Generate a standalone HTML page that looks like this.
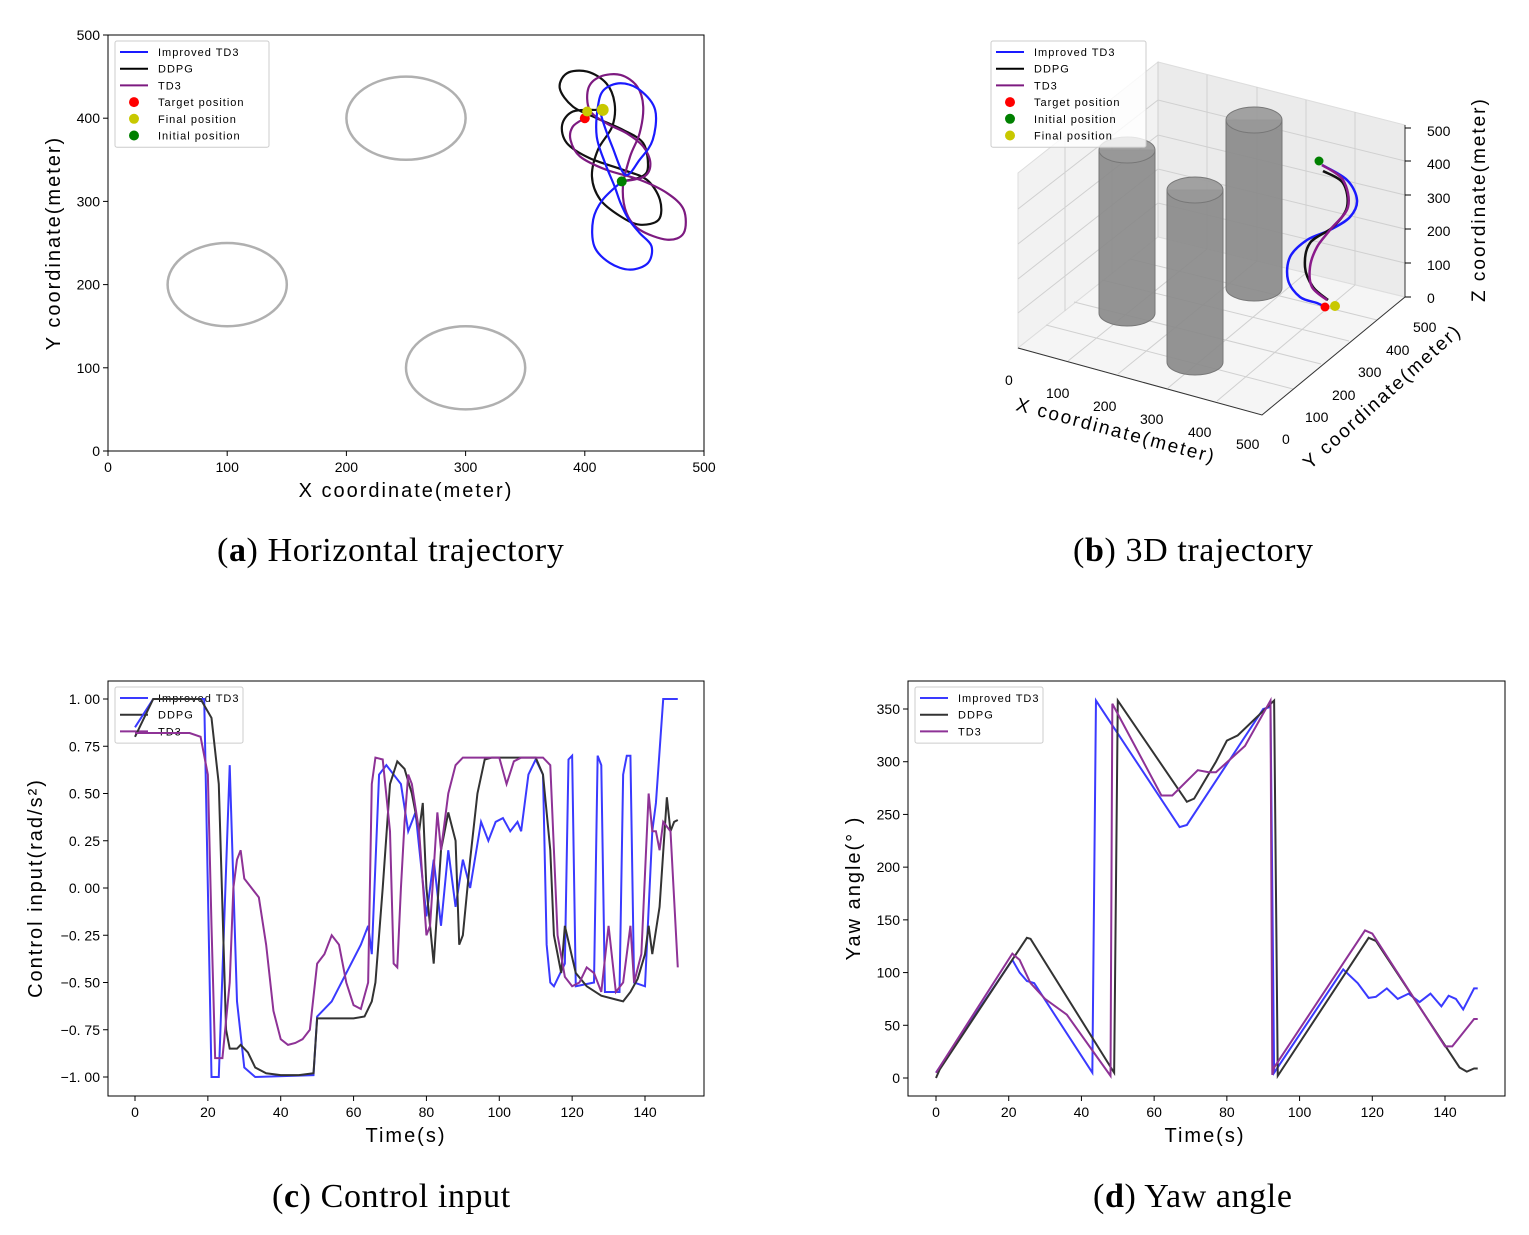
<!DOCTYPE html>
<html><head><meta charset="utf-8"><style>
body{margin:0;background:#fff;width:1529px;height:1230px;overflow:hidden}
svg text{font-family:"Liberation Sans","Noto Sans CJK SC",sans-serif}
.cap{font-family:"Liberation Serif",serif;font-size:34px;letter-spacing:0.6px}
</style></head><body>
<svg id="s" width="1529" height="1230" xmlns="http://www.w3.org/2000/svg">
<g id="g3d">
 <polygon points="1018,173 1158,62 1158,237 1018,348" fill="#f2f2f2" stroke="#ddd"/>
 <polygon points="1158,62 1405,125 1405,297 1158,237" fill="#ebebeb" stroke="#ddd"/>
 <polygon points="1018,348 1158,237 1405,297 1262,415" fill="#f5f5f5" stroke="#ddd"/>
 <g stroke="#d0d0d0" stroke-width="1" fill="none">
  <path d="M1065,136 V311 M1112,99 V274 M1158,62 V237 M1207,75 V249 M1257,87 V261 M1306,100 V273 M1355,112 V285"/>
  <path d="M1018,313 L1158,203 L1405,263 M1018,279 L1158,169 L1405,229 M1018,244 L1158,135 L1405,195 M1018,209 L1158,100 L1405,161"/>
  <path d="M1068,361 L1207,249 M1118,374 L1257,261 M1168,388 L1306,273 M1217,401 L1355,285 M1046,325 L1293,389 M1074,302 L1321,364 M1102,280 L1349,341 M1130,259 L1377,320"/>
 </g>
 <path d="M1018,348 L1262,415 L1405,297 V125" stroke="#333" fill="none"/>
 <g fill="#888" fill-opacity="0.9" stroke="#777">
  <path d="M1099,150 V313 A28,13 0 0 0 1155,313 V150 Z"/><ellipse cx="1127" cy="150" rx="28" ry="13" fill="#999"/>
  <path d="M1226,120 V288 A28,13 0 0 0 1282,288 V120 Z"/><ellipse cx="1254" cy="120" rx="28" ry="13" fill="#999"/>
  <path d="M1167,190 V362 A28,13 0 0 0 1223,362 V190 Z"/><ellipse cx="1195" cy="190" rx="28" ry="13" fill="#999"/>
 </g>
 <g font-size="14" fill="#000">
  <text x="1005" y="385">0</text><text x="1046" y="398">100</text><text x="1093" y="411">200</text><text x="1140" y="424">300</text><text x="1188" y="437">400</text><text x="1236" y="449">500</text>
  <text x="1282" y="444">0</text><text x="1305" y="422">100</text><text x="1332" y="400">200</text><text x="1358" y="377">300</text><text x="1386" y="355">400</text><text x="1413" y="332">500</text>
  <text x="1427" y="303">0</text><text x="1427" y="270">100</text><text x="1427" y="236">200</text><text x="1427" y="203">300</text><text x="1427" y="169">400</text><text x="1427" y="136">500</text>
 </g>
 <path d="M1405,297 h6 M1405,263 h6 M1405,229 h6 M1405,195 h6 M1405,161 h6 M1405,128 h6" stroke="#000"/>
 <text font-size="19" transform="translate(1015,410) rotate(15)" letter-spacing="2">X coordinate(meter)</text>
 <text font-size="19" transform="translate(1310,470) rotate(-42)" letter-spacing="2">Y coordinate(meter)</text>
 <text font-size="19" transform="translate(1485,302) rotate(-90)" letter-spacing="2">Z coordinate(meter)</text>
 <path id="b3" fill="none" stroke="#1a1aff" stroke-width="2.5"/>
 <path id="k3" fill="none" stroke="#111" stroke-width="2.5"/>
 <path id="p3" fill="none" stroke="#8a1a8a" stroke-width="2.5"/>
 <circle cx="1319" cy="161" r="4.5" fill="green"/><circle cx="1325" cy="307" r="4.5" fill="red"/><circle cx="1335" cy="306" r="5" fill="#c8c800"/>
</g>
<g id="root"></g>
<text class="cap" x="217" y="561">(<tspan font-weight="bold">a</tspan>)  Horizontal trajectory</text>
<text class="cap" x="1073" y="561">(<tspan font-weight="bold">b</tspan>)  3D trajectory</text>
<text class="cap" x="272" y="1207">(<tspan font-weight="bold">c</tspan>)  Control input</text>
<text class="cap" x="1093" y="1207">(<tspan font-weight="bold">d</tspan>)  Yaw angle</text>
</svg>
<script>
// Panel (a) data (meters)
const obstacleX=[250,100,300], obstacleY=[400,200,100], obstacleR=[50,50,50];
const blueTrajX=[431,415,407,408,421,438,453,456,446,437,430,425,417,410,411,416,430,446,459,457,446,434,423,414,414];
const blueTrajY=[324,302,278,246,226,218,226,246,262,278,298,318,346,378,414,434,442,434,410,374,350,332,366,402,412];
const ddpgTrajX=[410,390,381,385,404,432,452,463,462,446,430,413,406,411,423,425,418,402,385,379,390,410,432,449,453,448,431];
const ddpgTrajY=[410,408,392,370,352,338,326,302,278,272,282,302,330,362,390,418,442,456,454,436,414,400,386,370,342,330,324];
const td3TrajX=[400,390,388,396,418,446,469,483,483,469,446,435,432,438,446,449,444,430,413,403,404,418,435,449,455,450,432];
const td3TrajY=[400,390,374,354,338,326,310,290,262,254,266,286,318,354,382,414,438,452,450,436,410,394,382,366,346,330,324];
// Panel (c) data
const tBlue=[0,5,19,21,23,26,28,30,33,49,50,54,58,62,64,65,67,69,73,75,77,80,82,84,86,88,90,92,95,97,99,101,103,105,106,108,110,112,113,114,115,118,119,120,121,126,127,128,129,133,134,135,136,137,140,142,143,145,149];
const uBlue=[0.85,1.0,1.0,-1.0,-1.0,0.65,-0.6,-0.95,-1.0,-0.99,-0.68,-0.6,-0.45,-0.3,-0.2,-0.35,0.6,0.65,0.55,0.3,0.4,-0.15,0.15,-0.2,0.2,-0.1,0.15,0.0,0.35,0.25,0.35,0.37,0.3,0.35,0.3,0.6,0.68,0.6,-0.3,-0.5,-0.52,-0.4,0.68,0.7,-0.52,-0.5,0.7,0.65,-0.55,-0.55,0.6,0.7,0.7,-0.5,-0.52,0.3,0.45,1.0,1.0];
const tDdpg=[0,5,18,21,23,25,26,28,29,31,33,36,40,45,49,50,60,63,65,66,68,70,72,74,76,78,79,80,82,84,86,88,89,90,92,94,96,98,110,112,114,115,117,118,121,124,128,132,134,136,138,140,141,142,144,146,147,148,149];
const uDdpg=[0.8,1.0,1.0,0.9,0.55,-0.75,-0.85,-0.85,-0.83,-0.87,-0.95,-0.98,-0.99,-0.99,-0.98,-0.69,-0.69,-0.68,-0.6,-0.5,0,0.55,0.67,0.63,0.5,0.3,0.45,0,-0.4,0.2,0.4,0.25,-0.3,-0.25,0.15,0.5,0.68,0.69,0.69,0.6,0.2,-0.25,-0.45,-0.2,-0.45,-0.52,-0.57,-0.59,-0.6,-0.55,-0.48,-0.35,-0.2,-0.35,-0.1,0.48,0.3,0.35,0.36];
const tTd3=[0,5,10,15,18,20,21,22,24,26,27,28,29,30,32,34,36,38,40,42,44,46,48,50,52,54,56,58,60,62,64,65,66,68,70,71,72,73,74,75,76,78,80,81,83,84,86,88,90,100,102,104,106,112,114,116,118,120,122,124,126,128,130,132,134,136,137,139,141,142,143,144,145,147,149];
const uTd3=[0.82,0.82,0.82,0.82,0.8,0.6,-0.2,-0.9,-0.9,-0.5,0.0,0.15,0.2,0.05,0.0,-0.05,-0.3,-0.65,-0.8,-0.83,-0.82,-0.8,-0.75,-0.4,-0.35,-0.25,-0.3,-0.5,-0.62,-0.64,-0.5,0.55,0.69,0.68,0.3,-0.4,-0.42,0.0,0.35,0.6,0.55,0.3,-0.25,-0.2,0.4,0.2,0.5,0.65,0.69,0.69,0.55,0.67,0.69,0.69,0.65,-0.25,-0.47,-0.52,-0.5,-0.42,-0.45,-0.55,-0.2,-0.55,-0.5,-0.2,-0.5,-0.35,0.5,0.3,0.3,0.2,0.35,0.3,-0.42];
// Panel (d) data
const tYawBlue=[0,21,23,25,27,43,44,67,69,90,92,93,112,116,119,121,124,127,130,133,136,138,139,141,143,145,148,149];
const yawBlue=[5,112,100,92,90,5,358,238,240,350,352,5,103,90,76,77,85,75,80,72,80,72,68,78,75,65,85,85];
const tYawDdpg=[0,1,25,26,49,50,69,71,77,80,83,93,94,119,121,144,146,148,149];
const yawDdpg=[0,8,133,132,5,358,262,265,300,320,325,358,2,133,130,10,6,9,9];
const tYawTd3=[0,21,23,26,30,36,48,48.5,62,65,72,75,77,85,92,92.5,93,118,120,140,142,148,149];
const yawTd3=[5,118,112,90,75,60,2,355,268,268,292,290,290,315,358,3,10,140,137,30,30,56,56];
const ticksA=[0,100,200,300,400,500], ticksCx=[0,20,40,60,80,100,120,140], ticksCy=[1,0.75,0.5,0.25,0,-0.25,-0.5,-0.75,-1], ticksDy=[0,50,100,150,200,250,300,350];
// 3D screen-space curves
const b3=[[1322,165],[1347,180],[1357,200],[1350,217],[1330,230],[1307,240],[1290,257],[1288,280],[1300,297],[1317,303],[1325,307]];
const k3=[[1323,171],[1343,183],[1347,207],[1333,227],[1310,243],[1305,267],[1313,287],[1328,300]];
const p3=[[1322,165],[1343,180],[1348,207],[1330,230],[1317,247],[1310,267],[1312,287],[1327,300]];

const NS="http://www.w3.org/2000/svg", root=document.getElementById('root');
function el(tag,attrs,parent,txt){const e=document.createElementNS(NS,tag);for(const k in attrs)e.setAttribute(k,attrs[k]);if(txt!==undefined)e.textContent=txt;(parent||root).appendChild(e);return e;}
function smooth(pts){let d='M'+pts[0][0]+','+pts[0][1];for(let i=0;i<pts.length-1;i++){const p0=pts[Math.max(0,i-1)],p1=pts[i],p2=pts[i+1],p3=pts[Math.min(pts.length-1,i+2)];d+=' C'+(p1[0]+(p2[0]-p0[0])/6)+','+(p1[1]+(p2[1]-p0[1])/6)+' '+(p2[0]-(p3[0]-p1[0])/6)+','+(p2[1]-(p3[1]-p1[1])/6)+' '+p2[0]+','+p2[1];}return d;}
document.getElementById('b3').setAttribute('d',smooth(b3));
document.getElementById('k3').setAttribute('d',smooth(k3));
document.getElementById('p3').setAttribute('d',smooth(p3));
document.getElementById('k3');
document.getElementById('b3');
document.getElementById('p3');

function frame(L,T,R,B,name){const g=el('g',{});el('rect',{x:L,y:T,width:R-L,height:B-T,fill:'none',stroke:'#000','stroke-width':1},g);return g;}
function xtick(g,x,B,lab){el('line',{x1:x,x2:x,y1:B,y2:B+5,stroke:'#000'},g);el('text',{x:x,y:B+21,'font-size':14,'text-anchor':'middle'},g,lab);}
function ytick(g,y,L,lab){el('line',{x1:L-5,x2:L,y1:y,y2:y,stroke:'#000'},g);el('text',{x:L-8,y:y+5,'font-size':14,'text-anchor':'end'},g,lab);}
function legend(g,x,y,w,entries){const h=entries.length*16.7+6;el('rect',{x:x,y:y,width:w,height:h,fill:'#fff','fill-opacity':0.8,stroke:'#ccc',rx:2},g);entries.forEach((e,i)=>{const yy=y+11+i*16.7;const it=el('g',{},g);if(e[2]==='line')el('line',{x1:x+5,x2:x+33,y1:yy,y2:yy,stroke:e[1],'stroke-width':2},it);else el('circle',{cx:x+19,cy:yy,r:5,fill:e[1]},it);el('text',{x:x+43,y:yy+4,'font-size':11,'letter-spacing':1},it,e[0]);});}
function poly(g,xs,ys,sx,sy,color,name){const p=el('polyline',{points:xs.map((v,i)=>sx(v)+','+sy(ys[i])).join(' '),fill:'none',stroke:color,'stroke-width':2},g);}

// Panel a
{const L=108,T=35,R=704,B=451;const sx=v=>L+(v/500)*(R-L), sy=v=>B-(v/500)*(B-T);
const g=frame(L,T,R,B,'panel-a-plot');
ticksA.forEach(v=>{xtick(g,sx(v),B,v);ytick(g,sy(v),L,v);});
obstacleX.forEach((v,i)=>{const o=el('ellipse',{cx:sx(v),cy:sy(obstacleY[i]),rx:sx(obstacleR[i])-sx(0),ry:sy(0)-sy(obstacleR[i]),fill:'none',stroke:'#b0b0b0','stroke-width':2.5},g);});
const tr=(xs,ys,c,n)=>{const p=el('path',{d:smooth(xs.map((v,i)=>[sx(v),sy(ys[i])])),fill:'none',stroke:c,'stroke-width':2.2},g);};
tr(ddpgTrajX,ddpgTrajY,'#111','ddpg-trajectory');tr(td3TrajX,td3TrajY,'#7d1a80','td3-trajectory');tr(blueTrajX,blueTrajY,'#1a1aff','improved-td3-trajectory');
el('circle',{cx:sx(400),cy:sy(400),r:5,fill:'red'},g);el('circle',{cx:sx(402),cy:sy(408),r:5,fill:'#c8c800'},g);el('circle',{cx:sx(415),cy:sy(410),r:6,fill:'#c8c800'},g);el('circle',{cx:sx(431),cy:sy(324),r:5,fill:'green'},g);
el('text',{x:(L+R)/2,y:497,'font-size':20,'text-anchor':'middle','letter-spacing':2},g,'X coordinate(meter)');
el('text',{transform:'translate(60,243) rotate(-90)','font-size':20,'text-anchor':'middle','letter-spacing':2},g,'Y coordinate(meter)');
legend(g,115,41,154,[['Improved TD3','#1a1aff','line'],['DDPG','#000','line'],['TD3','#7d1a80','line'],['Target position','red'],['Final position','#c8c800'],['Initial position','green']]);}
// legend 3d
legend(document.getElementById('g3d'),991,41,155,[['Improved TD3','#1a1aff','line'],['DDPG','#000','line'],['TD3','#7d1a80','line'],['Target position','red'],['Initial position','green'],['Final position','#c8c800']]);
// Panel c
{const L=108,T=681,R=704,B=1096;const sx=v=>135+v*(645-135)/140, sy=v=>888-v*189;
const g=frame(L,T,R,B,'panel-c-plot');
ticksCx.forEach(v=>xtick(g,sx(v),B,v));ticksCy.forEach(v=>ytick(g,sy(v),L,v.toFixed(2).replace('-','−').replace('.','. ')));
legend(g,115,687,128,[['Improved TD3','#3a3aff','line'],['DDPG','#333','line'],['TD3','#8e3296','line']]);
poly(g,tBlue,uBlue,sx,sy,'#3a3aff','improved-td3-control');poly(g,tDdpg,uDdpg,sx,sy,'#333','ddpg-control');poly(g,tTd3,uTd3,sx,sy,'#8e3296','td3-control');
el('text',{x:(L+R)/2,y:1142,'font-size':20,'text-anchor':'middle','letter-spacing':2},g,'Time(s)');
el('text',{transform:'translate(42,888) rotate(-90)','font-size':20,'text-anchor':'middle','letter-spacing':2},g,'Control input(rad/s²)');}
// Panel d
{const L=908,T=681,R=1505,B=1096;const sx=v=>936+v*(1445-936)/140, sy=v=>1078-v*(1078-709)/350;
const g=frame(L,T,R,B,'panel-d-plot');
ticksCx.forEach(v=>xtick(g,sx(v),B,v));ticksDy.forEach(v=>ytick(g,sy(v),L,v));
poly(g,tYawBlue,yawBlue,sx,sy,'#3a3aff','improved-td3-yaw');poly(g,tYawDdpg,yawDdpg,sx,sy,'#333','ddpg-yaw');poly(g,tYawTd3,yawTd3,sx,sy,'#8e3296','td3-yaw');
el('text',{x:1205,y:1142,'font-size':20,'text-anchor':'middle','letter-spacing':2},g,'Time(s)');
el('text',{transform:'translate(860,888) rotate(-90)','font-size':20,'text-anchor':'middle','letter-spacing':2},g,'Yaw angle(° )');
legend(g,915,687,128,[['Improved TD3','#3a3aff','line'],['DDPG','#333','line'],['TD3','#8e3296','line']]);}
</script>
</body></html>
